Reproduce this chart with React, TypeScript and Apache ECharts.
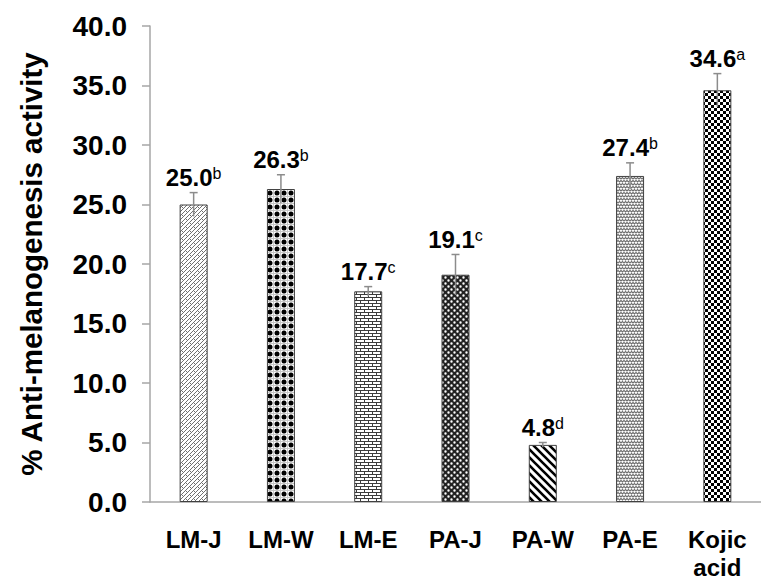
import React, { useEffect, useRef } from "react";
import * as echarts from "echarts";

const categories = ["LM-J", "LM-W", "LM-E", "PA-J", "PA-W", "PA-E", "Kojic\nacid"];
const values = [25.0, 26.3, 17.7, 19.1, 4.8, 27.4, 34.6];
const errors = [1.0, 1.2, 0.4, 1.7, 0.2, 1.1, 1.4];
const letters = ["b", "b", "c", "c", "d", "b", "a"];
const yTicks = { min: 0, max: 40, interval: 5 };

const FONT = "Liberation Sans, Arial, Helvetica, sans-serif";

function tile(w: number, h: number, draw: (c: CanvasRenderingContext2D) => void) {
  const cv = document.createElement("canvas");
  cv.width = w;
  cv.height = h;
  const ctx = cv.getContext("2d")!;
  ctx.fillStyle = "#fff";
  ctx.fillRect(0, 0, w, h);
  draw(ctx);
  return { image: cv.toDataURL(), imageWidth: w, imageHeight: h, repeat: "repeat" };
}

function makePatterns() {
  const p: any[] = [];
  // LM-J: gray diagonal lattice
  p.push(
    tile(8, 8, (c) => {
      c.strokeStyle = "#707070";
      c.lineWidth = 1;
      c.beginPath();
      c.moveTo(-1, 9); c.lineTo(9, -1);
      c.moveTo(-1, 5); c.lineTo(5, -1);
      c.moveTo(3, 9); c.lineTo(9, 3);
      c.stroke();
      c.beginPath();
      c.moveTo(1, 2); c.lineTo(3, 4);
      c.moveTo(5, 6); c.lineTo(7, 8);
      c.stroke();
    })
  );
  // LM-W: black dots
  p.push(
    tile(7, 7, (c) => {
      c.strokeStyle = "#c8c8c8";
      c.lineWidth = 1;
      c.beginPath();
      c.moveTo(0, 0.5); c.lineTo(7, 0.5);
      c.moveTo(0.5, 0); c.lineTo(0.5, 7);
      c.stroke();
      c.fillStyle = "#000";
      c.beginPath();
      c.arc(4, 4, 2.5, 0, Math.PI * 2);
      c.fill();
    })
  );
  // LM-E: bricks
  p.push(
    tile(8, 6, (c) => {
      c.fillStyle = "#3c3c3c";
      c.fillRect(0, 0, 8, 1);
      c.fillRect(0, 3, 8, 1);
      c.fillRect(0, 0, 1, 3);
      c.fillRect(4, 3, 1, 3);
    })
  );
  // PA-J: dark with white speckles
  p.push(
    tile(6, 6, (c) => {
      c.fillStyle = "#222";
      c.fillRect(0, 0, 6, 6);
      c.fillStyle = "#fff";
      c.beginPath();
      c.arc(1.5, 1.5, 1.2, 0, Math.PI * 2);
      c.arc(4.5, 4.5, 1.2, 0, Math.PI * 2);
      c.fill();
    })
  );
  // PA-W: wide downward diagonal
  p.push(
    tile(8, 8, (c) => {
      c.strokeStyle = "#000";
      c.lineWidth = 2.6;
      c.beginPath();
      c.moveTo(-2, -2); c.lineTo(10, 10);
      c.moveTo(-10, -2); c.lineTo(2, 10);
      c.moveTo(6, -2); c.lineTo(18, 10);
      c.stroke();
    })
  );
  // PA-E: gray squiggles
  p.push(
    tile(6, 6, (c) => {
      c.strokeStyle = "#6e6e6e";
      c.lineWidth = 1.2;
      c.beginPath();
      c.moveTo(-1.5, 2); c.lineTo(0, 0.5); c.lineTo(1.5, 2); c.lineTo(3, 0.5); c.lineTo(4.5, 2); c.lineTo(6, 0.5); c.lineTo(7.5, 2);
      c.moveTo(-1.5, 3.5); c.lineTo(0, 5); c.lineTo(1.5, 3.5); c.lineTo(3, 5); c.lineTo(4.5, 3.5); c.lineTo(6, 5); c.lineTo(7.5, 3.5);
      c.stroke();
    })
  );
  // Kojic: checkerboard
  p.push(
    tile(6, 6, (c) => {
      c.fillStyle = "#000";
      c.fillRect(0, 0, 3, 3);
      c.fillRect(3, 3, 3, 3);
    })
  );
  return p;
}

export default function App() {
  const ref = useRef<HTMLDivElement>(null);
  useEffect(() => {
    if (!ref.current) return;
    const chart = echarts.init(ref.current, null, { renderer: "svg" });
    const patterns = makePatterns();
    const axisGray = "#a6a6a6";
    chart.setOption({
      animation: false,
      backgroundColor: "#fff",
      grid: { left: 150, top: 26, width: 612, height: 486, containLabel: false },
      xAxis: {
        type: "category",
        data: categories,
        axisTick: { show: false },
        axisLine: { lineStyle: { color: axisGray, width: 1.5 } },
        axisLabel: {
          color: "#000",
          fontSize: 24,
          fontWeight: "bold",
          fontFamily: FONT,
          lineHeight: 28,
          margin: 23,
          interval: 0,
        },
      },
      yAxis: {
        type: "value",
        min: yTicks.min,
        max: yTicks.max,
        interval: yTicks.interval,
        name: "% Anti-melanogenesis activity",
        nameLocation: "middle",
        nameRotate: 90,
        nameGap: 104,
        nameTextStyle: { color: "#000", fontSize: 29.5, fontWeight: "bold", fontFamily: FONT },
        splitLine: { show: false },
        axisLine: { show: true, lineStyle: { color: axisGray, width: 1.5 } },
        axisTick: { show: true, length: 8, lineStyle: { color: axisGray, width: 1.5 } },
        axisLabel: {
          color: "#000",
          fontSize: 28,
          fontWeight: "bold",
          fontFamily: FONT,
          margin: 23,
          formatter: (v: number) => v.toFixed(1),
        },
      },
      series: [
        {
          type: "bar",
          barWidth: 28,
          data: values.map((v, i) => ({
            value: v,
            itemStyle: { color: patterns[i], borderColor: "#404040", borderWidth: 1 },
          })),
          z: 2,
        },
        {
          type: "custom",
          z: 3,
          data: values.map((v, i) => [i, v, errors[i]]),
          renderItem: (params: any, api: any) => {
            const i = params.dataIndex;
            const x = api.value(0);
            const v = api.value(1);
            const e = api.value(2);
            const top = api.coord([x, v + e]);
            const bot = api.coord([x, v - e]);
            return {
              type: "group",
              children: [
                {
                  type: "line",
                  shape: { x1: top[0], y1: top[1], x2: bot[0], y2: bot[1] },
                  style: { stroke: "#8c8c8c", lineWidth: 1.5 },
                },
                {
                  type: "line",
                  shape: { x1: top[0] - 4, y1: top[1], x2: top[0] + 4, y2: top[1] },
                  style: { stroke: "#8c8c8c", lineWidth: 1.5 },
                },
                {
                  type: "text",
                  x: top[0],
                  y: top[1] - 3,
                  style: {
                    text: "{v|" + values[i].toFixed(1) + "}{s|" + letters[i] + "}",
                    align: "center",
                    verticalAlign: "bottom",
                    rich: {
                      v: { fontSize: 24, fontWeight: "bold", fontFamily: FONT, fill: "#000" },
                      s: { fontSize: 16, fontFamily: FONT, fill: "#000", verticalAlign: "top" },
                    },
                  },
                },
              ],
            };
          },
        },
      ],
    });
    return () => chart.dispose();
  }, []);
  return (
    <div
      ref={ref}
      style={{ position: "fixed", left: 0, top: 0, width: 761, height: 581, background: "#fff" }}
    />
  );
}
